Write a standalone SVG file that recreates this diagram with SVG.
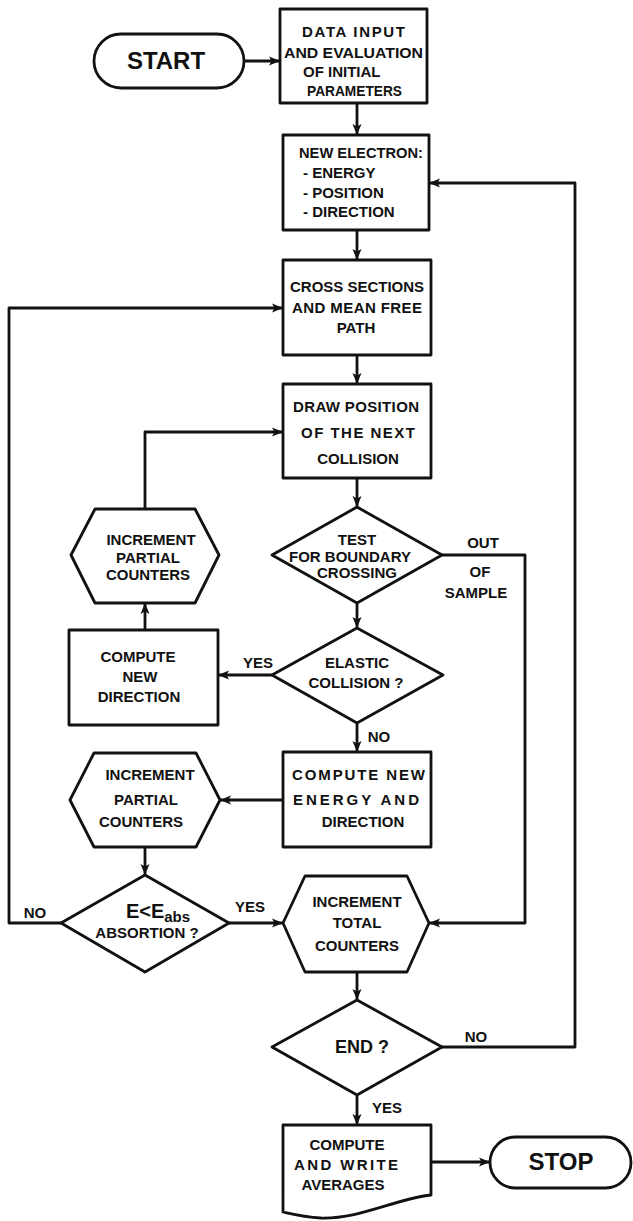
<svg xmlns="http://www.w3.org/2000/svg" width="633" height="1221" viewBox="0 0 633 1221">
<defs>
<style>
.s{fill:#fff;stroke:#111;stroke-width:2.8;stroke-linejoin:round}
.c{fill:none;stroke:#111;stroke-width:2.8;stroke-linejoin:round}
text{font-family:"Liberation Sans",Arial,sans-serif;font-weight:bold;font-size:15px;fill:#111}
.m{text-anchor:middle}
.big{font-size:24px}
</style>
<marker id="ah" markerUnits="userSpaceOnUse" markerWidth="12" markerHeight="10" refX="11" refY="5" orient="auto">
<path d="M0,0.5 L11,5 L0,9.5 L2.5,5 Z" fill="#111"/>
</marker>
</defs>
<rect width="633" height="1221" fill="#fff"/>

<g id="connectors">
<path class="c" d="M244,61 H280" marker-end="url(#ah)"/>
<path class="c" d="M357,103 V135" marker-end="url(#ah)"/>
<path class="c" d="M357,230 V260" marker-end="url(#ah)"/>
<path class="c" d="M357,355 V384" marker-end="url(#ah)"/>
<path class="c" d="M357,478 V507" marker-end="url(#ah)"/>
<path class="c" d="M357,603 V628" marker-end="url(#ah)"/>
<path class="c" d="M272,675 H218" marker-end="url(#ah)"/>
<path class="c" d="M145,630 V603" marker-end="url(#ah)"/>
<path class="c" d="M145,509 V432 H283" marker-end="url(#ah)"/>
<path class="c" d="M357,723 V752" marker-end="url(#ah)"/>
<path class="c" d="M283,800 H220" marker-end="url(#ah)"/>
<path class="c" d="M145,847 V875" marker-end="url(#ah)"/>
<path class="c" d="M61,923 H9 V308 H283" marker-end="url(#ah)"/>
<path class="c" d="M229,923 H283" marker-end="url(#ah)"/>
<path class="c" d="M442,555 H525 V923 H429" marker-end="url(#ah)"/>
<path class="c" d="M357,972 V1000" marker-end="url(#ah)"/>
<path class="c" d="M442,1047 H575 V183 H429" marker-end="url(#ah)"/>
<path class="c" d="M357,1095 V1125" marker-end="url(#ah)"/>
<path class="c" d="M431,1162 H490" marker-end="url(#ah)"/>
<text class="m" x="258" y="668">YES</text>
<text class="m" x="379" y="742">NO</text>
<text class="m" x="35" y="918">NO</text>
<text class="m" x="250" y="912">YES</text>
<text class="m" x="483" y="548">OUT</text>
<text class="m" x="480" y="577">OF</text>
<text class="m" x="476" y="598">SAMPLE</text>
<text class="m" x="476" y="1042">NO</text>
<text class="m" x="387" y="1113">YES</text>
</g>

<g id="start">
<rect class="s" x="94" y="34" width="150" height="54" rx="27"/>
<text class="m big" x="166" y="69">START</text>
</g>

<g id="data-input">
<rect class="s" x="280" y="9" width="147" height="94"/>
<text x="302" y="37" textLength="103" lengthAdjust="spacing">DATA INPUT</text>
<text x="284" y="58" textLength="139" lengthAdjust="spacingAndGlyphs">AND EVALUATION</text>
<text x="303" y="77">OF INITIAL</text>
<text x="307" y="96" textLength="95" lengthAdjust="spacingAndGlyphs">PARAMETERS</text>
</g>

<g id="new-electron">
<rect class="s" x="283" y="135" width="146" height="95"/>
<text x="299" y="158" textLength="124" lengthAdjust="spacingAndGlyphs">NEW ELECTRON:</text>
<text x="303" y="178">- ENERGY</text>
<text x="303" y="198">- POSITION</text>
<text x="303" y="217">- DIRECTION</text>
</g>

<g id="cross-sections">
<rect class="s" x="283" y="260" width="148" height="95"/>
<text class="m" x="357" y="292" textLength="134" lengthAdjust="spacingAndGlyphs">CROSS SECTIONS</text>
<text class="m" x="357" y="313" textLength="130" lengthAdjust="spacing">AND MEAN FREE</text>
<text class="m" x="356" y="333">PATH</text>
</g>

<g id="draw-position">
<rect class="s" x="283" y="384" width="148" height="94"/>
<text class="m" x="356" y="412" textLength="126" lengthAdjust="spacing">DRAW POSITION</text>
<text class="m" x="358" y="438" textLength="114" lengthAdjust="spacing">OF THE NEXT</text>
<text class="m" x="358" y="464">COLLISION</text>
</g>

<g id="test-boundary">
<polygon class="s" points="357,507 442,555 357,603 272,555"/>
<text class="m" x="357" y="545">TEST</text>
<text class="m" x="350" y="562" textLength="122" lengthAdjust="spacingAndGlyphs">FOR BOUNDARY</text>
<text class="m" x="357" y="578">CROSSING</text>
</g>

<g id="increment-partial-1">
<polygon class="s" points="95,509 195,509 219,555 195,603 95,603 71,555"/>
<text class="m" x="151" y="545">INCREMENT</text>
<text class="m" x="148" y="563">PARTIAL</text>
<text class="m" x="148" y="580">COUNTERS</text>
</g>

<g id="elastic">
<polygon class="s" points="357,628 443,675 357,723 272,675"/>
<text class="m" x="357" y="668">ELASTIC</text>
<text class="m" x="356" y="688">COLLISION ?</text>
</g>

<g id="compute-new-direction">
<rect class="s" x="69" y="630" width="149" height="95"/>
<text class="m" x="138" y="662">COMPUTE</text>
<text class="m" x="140" y="682">NEW</text>
<text class="m" x="139" y="702">DIRECTION</text>
</g>

<g id="compute-energy">
<rect class="s" x="283" y="752" width="148" height="95"/>
<text x="292" y="780" textLength="133" lengthAdjust="spacing">COMPUTE NEW</text>
<text x="293" y="805" textLength="126" lengthAdjust="spacing">ENERGY AND</text>
<text class="m" x="363" y="827">DIRECTION</text>
</g>

<g id="increment-partial-2">
<polygon class="s" points="94,753 196,753 220,800 196,847 94,847 70,800"/>
<text class="m" x="150" y="780">INCREMENT</text>
<text class="m" x="146" y="805">PARTIAL</text>
<text class="m" x="141" y="827">COUNTERS</text>
</g>

<g id="absorption">
<polygon class="s" points="145,875 229,923 145,972 61,923"/>
<text class="m" x="158" y="918" style="font-size:20px">E&lt;E<tspan style="font-size:15px" dy="4">abs</tspan></text>
<text class="m" x="147" y="938">ABSORTION ?</text>
</g>

<g id="increment-total">
<polygon class="s" points="305,876 407,876 429,923 407,972 305,972 283,923"/>
<text class="m" x="357" y="907">INCREMENT</text>
<text class="m" x="357" y="928">TOTAL</text>
<text class="m" x="357" y="951">COUNTERS</text>
</g>

<g id="end">
<polygon class="s" points="357,1000 442,1047 357,1095 272,1047"/>
<text class="m" x="362" y="1053" style="font-size:18px">END ?</text>
</g>

<g id="averages">
<path class="s" d="M283,1125 H431 V1195 C395,1199 360,1219 321,1218 C304,1217 292,1214 283,1212 Z"/>
<text class="m" x="347" y="1150">COMPUTE</text>
<text class="m" x="346" y="1170" textLength="104" lengthAdjust="spacing">AND WRITE</text>
<text class="m" x="343" y="1190">AVERAGES</text>
</g>

<g id="stop">
<rect class="s" x="490" y="1137" width="141" height="51" rx="25.5"/>
<text class="m big" x="561" y="1170">STOP</text>
</g>
</svg>
